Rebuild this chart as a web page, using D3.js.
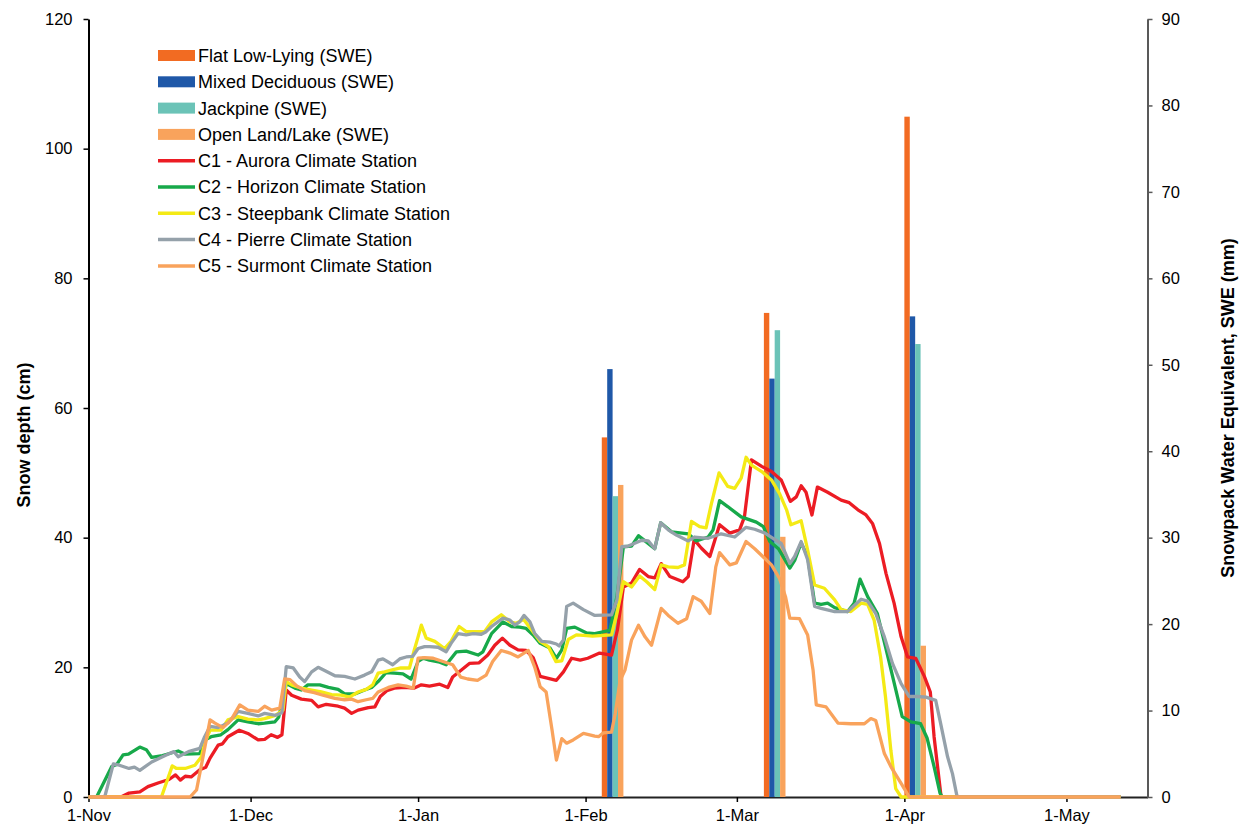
<!DOCTYPE html>
<html>
<head>
<meta charset="utf-8">
<script src="https://cdn.jsdelivr.net/npm/d3@7"></script>
<style>
	body { margin: 0; background: #fff; }
	text { font-family: Arial, "Liberation Sans", sans-serif; }
</style>
</head>
<body>
<svg width="1243" height="827"></svg>
<script>

// days counted from 1-Nov, snow depth in cm
var c1Aurora = [[0,0],[6,0],[7.5,0.6],[9.5,0.8],[11,1.6],[13,2.2],[14.9,2.7],[16.1,3.4],[17,2.6],[17.9,3.2],[19,3.1],[20.6,4.2],[21.7,4.6],[22.5,6.0],[24,8.0],[24.8,8.2],[25.8,9.3],[27.9,10.3],[29.5,9.8],[31.4,8.8],[32.6,8.9],[33.8,9.6],[35,9.2],[35.8,9.6],[36.6,16.5],[37.6,15.7],[39.4,15.1],[41.3,14.9],[42.5,13.9],[44,14.3],[46.2,14.0],[47.4,13.7],[48.7,12.9],[49.9,13.4],[51.8,13.8],[53,13.9],[54,15.5],[55.2,16.4],[56.6,16.8],[58.5,16.9],[60.3,16.8],[61.6,17.3],[63.1,17.1],[65,17.4],[66.5,16.9],[67.4,18.5],[68.9,19.5],[70.5,20.6],[72.3,20.7],[73.9,21.9],[75.2,23.4],[76.6,24.5],[78,23.4],[79.5,22.7],[81,22.6],[82.3,21.5],[83.6,18.6],[85.1,18.3],[86.6,18.0],[87.9,19.3],[89.4,21.4],[91,21.1],[92.4,21.4],[94.6,22.2],[96.8,21.9],[97.9,25.8],[99,32.4],[100.5,33.0],[102,35.1],[103.6,34.0],[104.8,33.8],[106,36.0],[107.6,34.0],[109.1,33.5],[110,33.2],[111,34.0],[112.1,39.7],[113.4,38.4],[115,37.1],[116.8,42.0],[118.7,40.7],[120.5,41.2],[121.4,43.2],[122.7,52.0],[124.6,51.0],[126.4,50.2],[128.2,48.9],[129.9,45.6],[131,46.3],[131.9,48.0],[132.8,47.0],[133.9,43.5],[134.9,47.8],[136.8,47.0],[139.3,45.8],[140.8,45.4],[142.4,44.3],[143.9,43.5],[145.1,42.2],[146.4,39.1],[147.6,34.5],[149.1,29.9],[150.4,24.7],[151.6,21.6],[153.1,21.4],[154.7,18.6],[155.8,16.2],[156.5,9.3],[157.8,0],[191,0]]

var c2Horizon = [[0,0],[1.5,0],[4.3,4.7],[5.2,5.0],[6.4,6.5],[7.4,6.6],[9.5,7.7],[10.7,7.3],[11.7,6.1],[13.7,6.4],[16.6,7.1],[17.9,6.6],[20.6,6.7],[21.5,8.8],[22.7,9.3],[24.5,9.6],[25.8,10.4],[27.7,11.9],[29.5,11.6],[31.4,11.3],[32.6,11.4],[34.5,11.6],[35.2,12.3],[36.6,17.5],[38.2,16.8],[39.4,16.5],[40.6,17.3],[42.8,17.3],[44.4,16.9],[46.2,16.6],[47.4,15.9],[49.3,15.9],[51.1,16.5],[52.4,16.9],[53.6,17.8],[55.1,19.2],[56.6,19.1],[58.2,19.0],[59.7,18.2],[61,20.9],[61.9,21.4],[63.1,21.1],[65,20.8],[66.2,20.4],[68.1,22.4],[69.9,22.5],[72.1,21.9],[73,22.4],[74.6,25.2],[76.7,27.0],[78.3,26.3],[79.8,26.2],[81,26.0],[82.3,25.0],[83.6,23.7],[85.4,23.0],[86.6,21.4],[87.6,22.7],[88.5,26.0],[90,26.2],[92.2,25.3],[93.7,25.2],[96.5,25.7],[97.8,30.9],[99,38.6],[100.5,38.7],[101.8,40.3],[103,39.5],[104.8,38.3],[105.9,42.3],[107.9,40.9],[111,40.6],[112.5,39.5],[114.7,40.1],[115.6,41.2],[116.8,45.7],[118.3,44.8],[120.8,43.2],[123.6,42.4],[124.9,41.7],[126.1,39.4],[127.7,38.3],[129.8,35.3],[130.7,36.5],[131.9,39.2],[133.1,37.1],[134.4,29.9],[135.6,29.7],[136.8,29.9],[138.1,29.2],[140.5,28.6],[141.7,29.9],[142.8,33.6],[144.2,30.9],[146,28.3],[147.5,23.2],[149,18.0],[150.6,12.4],[152.2,11.6],[154,11.3],[155.2,9.1],[156.5,4.7],[157.6,0.6],[158,0],[191,0]]

var c3Steepbank = [[0,0],[13.5,0],[15.5,4.8],[16.3,4.4],[17.9,4.4],[19.7,4.9],[20.9,6.2],[21.5,8.3],[22.5,10.3],[24.5,10.3],[25.8,11.9],[27.7,12.4],[29.5,12.0],[31.4,11.9],[32.6,12.1],[34.6,12.6],[36,13.4],[36.6,17.8],[37.6,17.3],[39.4,16.8],[41.3,16.5],[43.1,16.2],[45,15.8],[46.8,15.7],[48.3,15.4],[49.9,16.2],[51.4,16.6],[52.6,17.3],[53.6,19.1],[54.8,19.3],[56.6,19.7],[57.8,19.9],[59.4,19.9],[60.3,22.7],[61,24.7],[61.6,26.5],[62.5,24.5],[64.1,24.0],[65.9,22.9],[67.1,24.0],[68.6,26.3],[69.9,25.5],[71.8,25.5],[73.3,25.5],[74.6,27.0],[76.4,28.1],[78,27.0],[79.2,26.8],[80.5,27.4],[82,25.8],[83.6,24.0],[85.1,23.2],[86.5,20.9],[87.6,21.0],[88.8,24.3],[90.3,25.0],[92.2,24.9],[93.3,24.8],[96.8,25.0],[97.8,28.3],[99,33.2],[100.5,32.4],[102,34.1],[103.3,33.2],[104.8,32.0],[106,35.8],[107.3,35.5],[109.1,35.4],[110.3,35.8],[111.6,42.5],[113.1,41.7],[114.3,41.5],[115.3,45.3],[116.7,50.0],[118.3,47.9],[119.6,47.6],[120.8,49.2],[121.7,52.4],[122.7,51.2],[124.6,50.2],[126.4,48.9],[127.9,46.8],[129.2,44.3],[130,42.0],[131.9,42.6],[133.1,38.1],[134.4,32.7],[136.2,32.2],[138.1,30.4],[139.3,28.9],[141.1,28.6],[143,29.9],[144.2,29.7],[145.4,27.3],[146.6,21.6],[147.5,15.5],[148.5,7.2],[149.4,1.3],[150.4,0],[191,0]]

var c4Pierre = [[0,0],[3,0],[4.6,5.1],[5.7,4.9],[7.5,4.4],[8.5,4.6],[9.5,4.1],[11.7,5.4],[13.7,6.2],[15.8,7.0],[16.6,6.2],[18.5,7.0],[20.6,7.5],[21.5,9.3],[22.5,10.9],[24,10.7],[25.8,11.4],[27.7,13.2],[29.5,12.9],[31.4,12.5],[32.6,12.9],[34.6,12.6],[35.8,13.0],[36.6,20.1],[37.9,19.9],[39.1,18.5],[40,17.8],[41.3,19.3],[42.5,20.0],[43.7,19.5],[45.6,18.7],[47.4,18.6],[49.3,18.2],[51.1,18.8],[52.4,19.3],[53.6,21.1],[54.5,21.3],[56.3,20.4],[57.6,21.3],[58.8,21.6],[60,21.7],[61,22.9],[62.2,23.2],[63.1,23.2],[64.7,23.1],[66.2,22.4],[67.1,23.7],[68.4,25.2],[69.9,25.0],[71.2,25.2],[72.7,25.1],[73.6,25.5],[74.6,26.3],[76.7,27.6],[78,27.3],[78.9,26.5],[79.8,27.0],[80.6,28.0],[81.7,27.0],[82.6,25.2],[83.9,24.0],[85.4,23.9],[86.6,23.6],[87.1,23.3],[87.9,24.2],[88.5,29.4],[89.7,29.9],[91.6,28.9],[93.7,28.0],[96.8,28.1],[97.8,30.4],[98.7,38.6],[99.9,38.7],[102.4,39.6],[103.6,39.5],[104.8,38.3],[105.9,42.3],[107.3,41.2],[108.8,40.4],[111,39.5],[112.2,40.1],[114.7,39.9],[117.1,40.6],[119.6,40.1],[121.7,41.6],[123.3,41.3],[125.2,40.7],[126.7,39.9],[128.2,39.1],[129.8,36.0],[130.7,37.1],[131.9,39.4],[133.1,36.6],[134.4,29.4],[135.6,29.1],[138.1,28.6],[140.5,28.6],[143,30.5],[144.2,30.2],[145.7,28.3],[147.3,24.7],[148.8,20.6],[150.4,17.5],[151.9,15.5],[153.4,15.5],[155,15.4],[156.8,14.9],[157.7,11.4],[159,6.2],[159.9,3.6],[160.7,0.3],[161,0],[191,0]]

var c5Surmont = [[0,0],[18.8,0],[20,1.1],[21.2,6.2],[22.5,11.9],[23.4,11.4],[24.9,10.7],[26.4,11.9],[28,14.2],[29.5,13.4],[31.4,13.2],[32.6,14.0],[33.9,13.4],[35.4,13.7],[36.3,18.2],[37.3,18.1],[38.6,17.1],[40,16.4],[41.8,16.1],[43.4,15.7],[45.6,15.2],[47.4,15.0],[48.7,15.1],[49.9,14.7],[51.4,15.0],[52.6,15.2],[53.6,16.2],[55.5,16.9],[57.3,17.3],[58.8,17.1],[60.1,16.8],[61,21.4],[62.2,21.5],[63.8,21.4],[65.6,20.9],[67.4,20.4],[68.9,18.5],[70.2,18.2],[72,18.0],[73.6,18.8],[74.8,20.9],[76.4,22.6],[78,22.2],[79.5,21.6],[81.4,22.6],[82.6,20.0],[83.6,17.0],[84.7,16.2],[85.8,10.3],[86.6,5.7],[87.6,9.0],[88.5,8.3],[89.7,8.8],[91.6,9.8],[93.7,9.4],[94.4,9.3],[95.3,9.9],[96.8,10.0],[97.5,12.9],[98.4,18.0],[99.3,19.6],[100.5,24.2],[101.8,26.5],[103,24.7],[104.2,23.4],[106,29.1],[107.3,28.0],[109.1,26.8],[110.7,27.5],[111.9,30.9],[113.4,30.2],[115,28.3],[116.1,35.5],[116.8,37.7],[118.7,35.8],[119.9,36.1],[121.7,39.4],[123.3,38.3],[124.8,37.1],[126.4,35.8],[127.9,33.7],[129,30.9],[129.8,27.6],[131.6,27.5],[133.1,25.0],[134.1,19.6],[134.7,14.2],[136.5,13.9],[138.7,11.4],[141.1,11.3],[143.6,11.3],[144.8,12.1],[145.7,11.8],[147.3,6.7],[148.5,4.7],[150.4,2.1],[151.9,0],[191,0]]

// snow survey SWE (mm), survey day counted from 1-Nov
var flatDays = [95, 125, 151]
var flatSWE = [41.6, 56.0, 78.7]
var mixedDays = [96, 126, 152]
var mixedSWE = [49.5, 48.4, 55.6]
var jackpineDays = [97, 127, 153]
var jackpineSWE = [34.8, 54.0, 52.4]
var openDays = [98, 128, 154]
var openSWE = [36.1, 30.1, 17.5]

var monthDays = [0, 30, 61, 92, 120, 151, 181]
var monthLabels = ["1-Nov", "1-Dec", "1-Jan", "1-Feb", "1-Mar", "1-Apr", "1-May"]

var depthTicks = [0, 20, 40, 60, 80, 100, 120]
var sweTicks = [0, 10, 20, 30, 40, 50, 60, 70, 80, 90]

var barSeries = [
	{name: "Flat Low-Lying (SWE)", days: flatDays, values: flatSWE, color: "#f26b22"},
	{name: "Mixed Deciduous (SWE)", days: mixedDays, values: mixedSWE, color: "#1f58a8"},
	{name: "Jackpine (SWE)", days: jackpineDays, values: jackpineSWE, color: "#6bc3b7"},
	{name: "Open Land/Lake (SWE)", days: openDays, values: openSWE, color: "#f9a35c"}
]

var lineSeries = [
	{name: "C1 - Aurora Climate Station", data: c1Aurora, color: "#ec1c24"},
	{name: "C2 - Horizon Climate Station", data: c2Horizon, color: "#17a94a"},
	{name: "C3 - Steepbank Climate Station", data: c3Steepbank, color: "#f4ea15"},
	{name: "C4 - Pierre Climate Station", data: c4Pierre, color: "#95a1aa"},
	{name: "C5 - Surmont Climate Station", data: c5Surmont, color: "#f9a35c"}
]

var svg = d3.select("svg")

var plotLeft = 88.5, plotRight = 1147.5, plotTop = 19, plotBottom = 797

var x = d3.scaleLinear().domain([0, 196]).range([plotLeft, plotRight])
var yDepth = d3.scaleLinear().domain([0, 120]).range([plotBottom, plotTop])
var ySWE = d3.scaleLinear().domain([0, 90]).range([plotBottom, plotTop])

// axes go first so the zero-depth lines sit over the x axis
var xAxis = svg.append("g")
	.attr("transform", "translate(0," + plotBottom + ")")
	.call(d3.axisBottom(x)
		.tickValues(monthDays)
		.tickFormat(function (d, i) { return monthLabels[i]; })
		.tickSize(5)
		.tickSizeOuter(0)
		.tickPadding(7));

var yAxisLeft = svg.append("g")
	.attr("transform", "translate(" + plotLeft + ",0)")
	.call(d3.axisLeft(yDepth)
		.tickValues(depthTicks)
		.tickSize(5)
		.tickSizeOuter(0)
		.tickPadding(11));

var yAxisRight = svg.append("g")
	.attr("transform", "translate(" + plotRight + ",0)")
	.call(d3.axisRight(ySWE)
		.tickValues(sweTicks)
		.tickSize(5)
		.tickSizeOuter(0)
		.tickPadding(9));

[xAxis, yAxisLeft, yAxisRight].forEach(function (a) {
	a.selectAll("text").attr("font-size", "16.5px").attr("fill", "#000").style("font-family", "Arial, 'Liberation Sans', sans-serif");
	a.select(".domain").attr("stroke-width", 2);
	a.selectAll(".tick line").attr("stroke-width", 1.5);
});
xAxis.select(".domain").attr("stroke", "#222");
yAxisLeft.select(".domain").attr("stroke", "#000");
yAxisRight.select(".domain").attr("stroke", "#595959");
yAxisRight.selectAll(".tick line").attr("stroke", "#595959");

// bars, then the lines on top of them
barSeries.forEach(function (s) {
	svg.append("g")
		.selectAll("rect")
		.data(s.values)
		.enter().append("rect")
		.attr("x", function (d, i) { return x(s.days[i]); })
		.attr("width", function (d, i) { return x(s.days[i] + 1) - x(s.days[i]); })
		.attr("y", function (d) { return ySWE(d); })
		.attr("height", function (d) { return ySWE(0) - ySWE(d); })
		.attr("fill", s.color);
});

var line = d3.line()
	.x(function (d) { return x(d[0]); })
	.y(function (d) { return yDepth(d[1]); });

lineSeries.forEach(function (s) {
	svg.append("path")
		.datum(s.data)
		.attr("d", line)
		.attr("fill", "none")
		.attr("stroke", s.color)
		.attr("stroke-width", 3.3)
		.attr("stroke-linejoin", "round");
});

svg.append("text")
	.attr("transform", "translate(30,435) rotate(-90)")
	.attr("text-anchor", "middle")
	.attr("font-size", "18px")
	.attr("font-weight", "bold")
	.text("Snow depth (cm)");

svg.append("text")
	.attr("transform", "translate(1234,408) rotate(-90)")
	.attr("text-anchor", "middle")
	.attr("font-size", "18px")
	.attr("font-weight", "bold")
	.text("Snowpack Water Equivalent, SWE (mm)");

// legend
var legendItems = barSeries.map(function (s) { return {name: s.name, color: s.color, bar: true}; })
	.concat(lineSeries.map(function (s) { return {name: s.name, color: s.color, bar: false}; }));

var legend = svg.append("g")
	.selectAll("g")
	.data(legendItems)
	.enter().append("g")
	.attr("transform", function (d, i) { return "translate(158," + (55.5 + i * 26.3) + ")"; });

legend.filter(function (d) { return d.bar; })
	.append("rect")
	.attr("x", 0)
	.attr("y", -5.5)
	.attr("width", 37)
	.attr("height", 11)
	.attr("fill", function (d) { return d.color; });

legend.filter(function (d) { return !d.bar; })
	.append("line")
	.attr("x1", 0)
	.attr("x2", 37)
	.attr("stroke", function (d) { return d.color; })
	.attr("stroke-width", 3.5);

legend.append("text")
	.attr("x", 40)
	.attr("dy", "0.36em")
	.attr("font-size", "18px")
	.text(function (d) { return d.name; });

</script>
</body>
</html>
